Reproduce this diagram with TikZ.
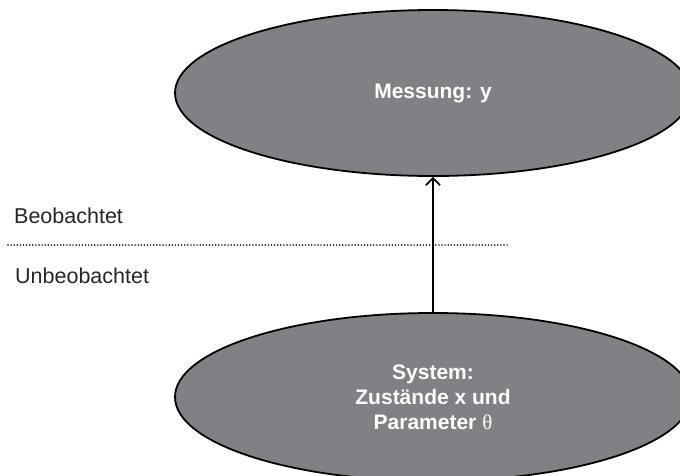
\documentclass[tikz,border=0pt]{standalone}
\usepackage{fontspec}
\setmainfont{Liberation Sans}
\newfontfamily\greekserif{Liberation Serif}
\usetikzlibrary{shapes.geometric,arrows.meta}
\definecolor{blobgray}{HTML}{808184}
\tikzset{
  blob/.style={ellipse, draw=black, fill=blobgray, line width=1.8pt,
    inner sep=0pt, text=white, align=center,
    font=\fontsize{21}{25}\selectfont\bfseries},
  sidelabel/.style={anchor=base west, inner sep=0pt,
    font=\fontsize{21.5}{25}\selectfont, text=black!85},
  boundary/.style={line width=1.7pt, line cap=round, dash pattern=on 0pt off 3.1pt},
  link/.style={line width=1.8pt, -{Straight Barb[length=7pt,width=14pt,line width=1.8pt]}}
}
\begin{document}
\begin{tikzpicture}[x=1pt,y=-1pt]
  \useasboundingbox (0,0) rectangle (680,475);
  \clip (0,0) rectangle (680,475);
  % measurement and system
  \node[blob, minimum width=516pt, minimum height=166pt] (mess) at (433,93) {Messung: y};
  \node[blob, minimum width=516pt, minimum height=168pt] (sys) at (433,397)
    {System:\\Zustände x und\\Parameter {\mdseries\greekserif θ}};
  % observed / unobserved boundary
  \coordinate (bl) at (8,245);
  \coordinate (br) at (510,245);
  \draw[boundary] (bl) -- (br);
  \node[sidelabel] (obs) at (14,223) {Beobachtet};
  \node[sidelabel] (unobs) at (15,283) {Unbeobachtet};
  % causal link
  \draw[link] (sys.north) -- (mess.south);
\end{tikzpicture}
\end{document}
